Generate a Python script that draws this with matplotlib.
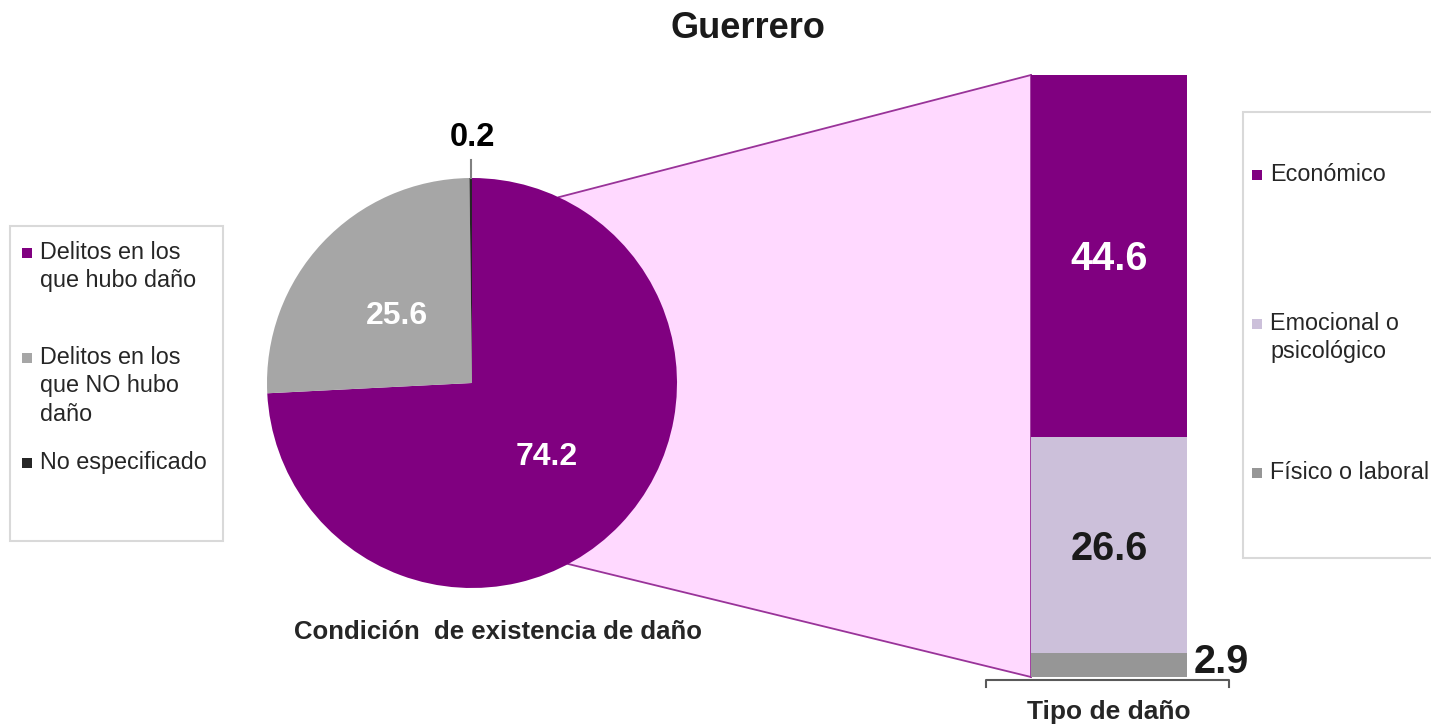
import numpy as np
import matplotlib.pyplot as plt
from matplotlib.patches import Polygon, Rectangle

plt.rcParams['font.family'] = ['Liberation Sans', 'DejaVu Sans']

# data
title = "Guerrero"
pie_labels = ["Delitos en los\nque hubo daño", "Delitos en los\nque NO hubo\ndaño", "No especificado"]
pie_values = [74.2, 25.6, 0.2]
pie_colors = ['#800080', '#A6A6A6', '#262626']

bar_labels = ["Económico", "Emocional o\npsicológico", "Físico o laboral"]
bar_values = [44.6, 26.6, 2.9]
bar_colors = ['#800080', '#CCC0DA', '#969696']

W, H = 1431, 727
fig = plt.figure(figsize=(W / 100, H / 100), dpi=100)

# background axes in pixel coords
bg = fig.add_axes([0, 0, 1, 1], zorder=0)
bg.set_xlim(0, W)
bg.set_ylim(H, 0)
bg.axis('off')

cx, cy, r = 472, 383, 205
bx0, bx1, by0, by1 = 1031, 1187, 75, 677

# connector (pink area + lines)
a_top, a_bot = np.radians(65), np.radians(-62)
p_top = (cx + r * np.cos(a_top), cy - r * np.sin(a_top))
p_bot = (cx + r * np.cos(a_bot), cy - r * np.sin(a_bot))
bg.add_patch(Polygon([p_top, (bx0, by0), (bx0, by1), p_bot], closed=True,
                     facecolor='#FFD9FF', edgecolor='none'))
bg.plot([p_top[0], bx0], [p_top[1], by0], color='#993399', lw=1.3)
bg.plot([p_bot[0], bx0], [p_bot[1], by1], color='#993399', lw=1.3)
bg.plot([bx0, bx0], [by0, by1], color='#993399', lw=1.3)

# pie
pax = fig.add_axes([(cx - r) / W, (H - cy - r) / H, 2 * r / W, 2 * r / H], zorder=2)
pax.patch.set_alpha(0)
wedges, _ = pax.pie(pie_values, colors=pie_colors, startangle=90, counterclock=False,
                    radius=1, wedgeprops=dict(linewidth=0))
pax.set_xlim(-1, 1)
pax.set_ylim(-1, 1)
pax.axis('off')
for w, v in zip(wedges, pie_values):
    ang = np.radians((w.theta1 + w.theta2) / 2)
    if v > 5:
        pax.text(0.5 * np.cos(ang), 0.5 * np.sin(ang) - 0.015, f"{v}", color='white',
                 fontsize=23, fontweight='bold', ha='center', va='center')
    else:
        pax.plot([np.cos(ang), np.cos(ang)], [1.0, 1.09], color='#808080', lw=1.5,
                 clip_on=False)
        pax.text(np.cos(ang) + 0.01, 1.12, f"{v}", color='black', fontsize=23.5,
                 fontweight='bold', ha='center', va='bottom', clip_on=False)

# stacked bar
bax = fig.add_axes([bx0 / W, (H - by1) / H, (bx1 - bx0) / W, (by1 - by0) / H], zorder=2)
bax.patch.set_alpha(0)
bottom = 0
for lab, v, c in zip(bar_labels[::-1], bar_values[::-1], bar_colors[::-1]):
    bax.bar(0, v, bottom=bottom, width=1, color=c)
    if v > 5:
        bax.text(0, bottom + v / 2 - 0.4, f"{v}", ha='center', va='center', fontsize=28.5,
                 fontweight='bold', color='white' if c == '#800080' else '#1a1a1a')
    else:
        bax.text(0.54, bottom + v / 2 + 0.4, f"{v}", ha='left', va='center', fontsize=28.5,
                 fontweight='bold', color='#1a1a1a', clip_on=False)
    bottom += v
bax.set_xlim(-0.5, 0.5)
bax.set_ylim(0, sum(bar_values))
bax.axis('off')

# bracket axis under bar
bg.plot([986, 986, 1229, 1229], [687, 680, 680, 687], color='#595959', lw=1.5)

# titles
bg.text(748, 28, title, ha='center', va='center', fontsize=26, fontweight='bold',
        color='#1a1a1a')
bg.text(498, 632, "Condición  de existencia de daño", ha='center', va='center',
        fontsize=18.5, fontweight='bold', color='#262626')
bg.text(1109, 712, "Tipo de daño", ha='center', va='center', fontsize=19,
        fontweight='bold', color='#262626')

# left legend
bg.add_patch(Rectangle((10, 226), 213, 315, facecolor='white', edgecolor='#D9D9D9', lw=1.5))
for i, (lab, c) in enumerate(zip(pie_labels, pie_colors)):
    y = 253 + 105 * i
    bg.add_patch(Rectangle((22, y - 5), 10, 10, facecolor=c, edgecolor='none'))
    bg.text(40, y - 12, lab, ha='left', va='top', fontsize=16.8, color='#262626',
            linespacing=1.3)

# right legend
bg.add_patch(Rectangle((1243, 112), 250, 446, facecolor='white', edgecolor='#D9D9D9',
                       lw=1.5, clip_on=True))
for i, (lab, c) in enumerate(zip(bar_labels, bar_colors)):
    y = 175 + 149 * i
    bg.add_patch(Rectangle((1252, y - 5), 10, 10, facecolor=c, edgecolor='none'))
    bg.text(1270, y - 12, lab, ha='left', va='top', fontsize=16.8, color='#262626',
            linespacing=1.3)

fig.savefig("out.png", dpi=100)
